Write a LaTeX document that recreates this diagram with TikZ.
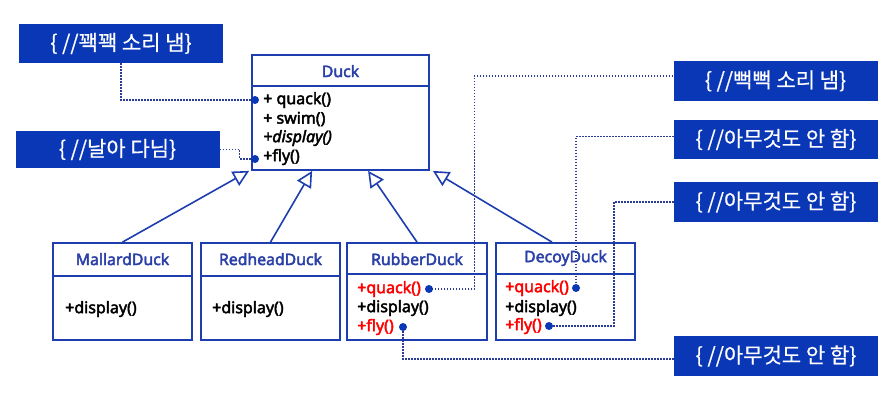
\documentclass[tikz,border=0pt]{standalone}
\usepackage{fontspec}
\setmainfont{Noto Sans}
\newfontfamily\clsfont{Noto Sans}[FakeBold=2.6]
\newfontfamily\kr{Noto Sans CJK KR}[FakeBold=0.6]
\usetikzlibrary{arrows.meta,calc}
\definecolor{boxblue}{HTML}{0A37B5}
\definecolor{lineblue}{HTML}{1E3DAE}
\definecolor{titleblue}{HTML}{2A3FA8}
\definecolor{dotblue}{HTML}{2B3C96}
\definecolor{opred}{HTML}{FF0000}
\begin{document}
\begin{tikzpicture}[x=1pt,y=-1pt,
  note/.style={fill=boxblue, text=white, minimum width=204pt, minimum height=39pt,
    inner sep=0pt, font=\kr\fontsize{21}{24}\selectfont},
  classbox/.style={draw=lineblue, line width=1.8pt, fill=white, inner sep=0pt},
  sep/.style={draw=lineblue, line width=1.8pt},
  title/.style={text=titleblue, inner sep=0pt, font=\clsfont\fontsize{15.8}{18}\selectfont},
  op/.style={anchor=west, inner sep=0pt, font=\clsfont\fontsize{16}{18}\selectfont},
  redop/.style={op, text=opred},
  link/.style={draw=dotblue, line width=1.5pt, dash pattern=on 1.5pt off 1.5pt},
  pin/.style={circle, fill=boxblue, inner sep=0pt, minimum size=8pt},
  inherit/.style={draw=lineblue, line width=1.6pt, -{Triangle[open,length=16pt,width=16pt]}}
]
\useasboundingbox (0,0) rectangle (891,406);

% ---- superclass ----
\node[classbox, minimum width=177pt, minimum height=115pt] (duck) at (340.5,112.5) {};
\draw[sep] ($(duck.north west)+(0,32)$) -- ($(duck.north east)+(0,32)$);
\node[title] (duckname) at ($(duck.north)+(0,17)$) {Duck};
\node[op] (dquack) at (263,100) {+ quack()};
\node[op] (dswim) at (263,119) {+ swim()};
\node[op] (ddisp) at (263,138) {\itshape +display()};
\node[op] (dfly) at (263,157) {+fly()};

% ---- subclasses ----
\node[classbox, minimum width=139pt, minimum height=97pt] (mallard) at (122.5,291.5) {};
\draw[sep] ($(mallard.north west)+(0,34)$) -- ($(mallard.north east)+(0,34)$);
\node[title] (mallardname) at ($(mallard.north)+(0,17)$) {MallardDuck};
\node[op] (mdisp) at (65,309) {+display()};

\node[classbox, minimum width=139pt, minimum height=97pt] (redhead) at (270.5,291.5) {};
\draw[sep] ($(redhead.north west)+(0,34)$) -- ($(redhead.north east)+(0,34)$);
\node[title] (redheadname) at ($(redhead.north)+(0,17)$) {RedheadDuck};
\node[op] (hdisp) at (212,309) {+display()};

\node[classbox, minimum width=140pt, minimum height=97pt] (rubber) at (417,291.5) {};
\draw[sep] ($(rubber.north west)+(0,32)$) -- ($(rubber.north east)+(0,32)$);
\node[title] (rubbername) at ($(rubber.north)+(0,17)$) {RubberDuck};
\node[redop] (rquack) at (357,289) {+quack()};
\node[op] (rdisp) at (357,308) {+display()};
\node[redop] (rfly) at (357,327) {+fly()};

\node[classbox, minimum width=139pt, minimum height=97pt] (decoy) at (565.5,291.5) {};
\draw[sep] ($(decoy.north west)+(0,32)$) -- ($(decoy.north east)+(0,32)$);
\node[title] (decoyname) at ($(decoy.north)+(0,16)$) {DecoyDuck};
\node[redop] (cquack) at (505,288) {+quack()};
\node[op] (cdisp) at (505,308) {+display()};
\node[redop] (cfly) at (505,326) {+fly()};

% ---- generalisation arrows ----
\draw[inherit] (mallard.north) -- ($(duck.south west)+(-2,0)$);
\draw[inherit] (redhead.north) -- ($(duck.south west)+(61,0)$);
\draw[inherit] (rubber.north) -- ($(duck.south west)+(117,0)$);
\draw[inherit] ($(decoy.north)+(-13.5,0)$) -- ($(duck.south east)+(3,0)$);

% ---- comment boxes ----
\node[note] (nquack) at (121,43.5) {\{ //꽥꽥 소리 냄\}};
\node[note, minimum height=37pt] (nfly) at (117.5,149.5) {\{ //날아 다님\}};
\node[note, minimum height=40pt] (nsqueak) at (775.5,81) {\{ //뻑뻑 소리 냄\}};
\node[note] (nnone1) at (776,139.5) {\{ //아무것도 안 함\}};
\node[note, minimum height=40pt] (nnone2) at (776,202) {\{ //아무것도 안 함\}};
\node[note, minimum height=40pt] (nnone3) at (776,356) {\{ //아무것도 안 함\}};

% ---- dotted links ----
\draw[link] (nquack.south) |- (255,100) coordinate (pdquack);
\draw[link] (nfly.east) -- ++(20,0) |- (255,159) coordinate (pdfly);
\draw[link] ($(nsqueak.west)+(0,-5)$) -- ++(-199,0) |- (429,289) coordinate (prquack);
\draw[link] ($(nnone1.west)+(0,-3)$) -| (576,288) coordinate (pcquack);
\draw[link] (nnone2.west) -- ++(-60,0) |- (549,326) coordinate (pcfly);
\draw[link] ($(nnone3.west)+(0,3)$) -| (403,327) coordinate (prfly);

% ---- attachment dots ----
\foreach \p in {pdquack,pdfly,prquack,pcquack,pcfly,prfly}
  \node[pin] at (\p) {};
\end{tikzpicture}
\end{document}
